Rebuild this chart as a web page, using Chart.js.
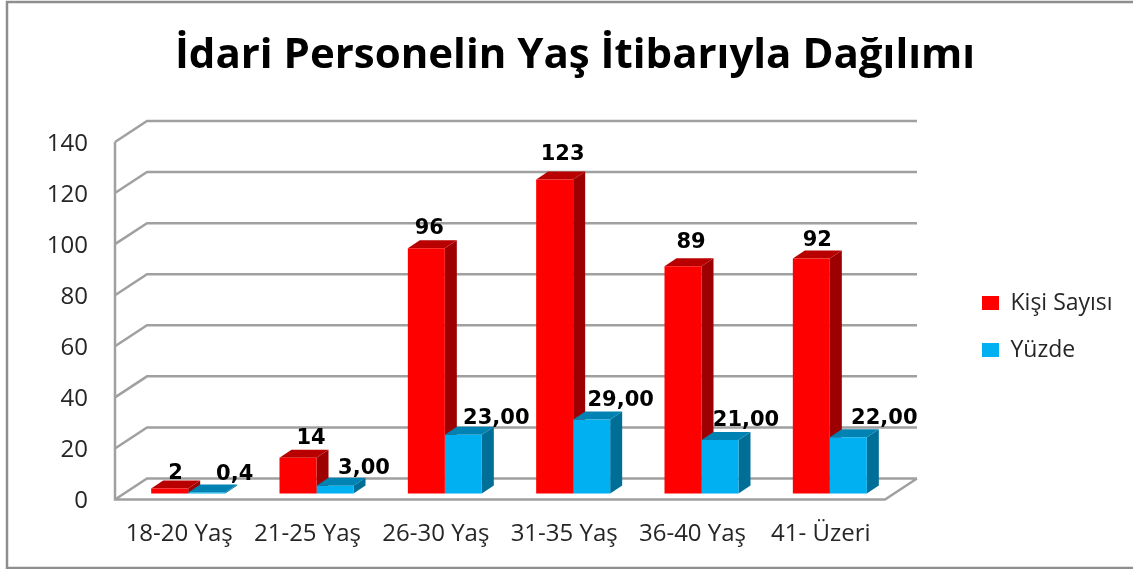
<!DOCTYPE html>
<html lang="tr">
<head>
<meta charset="utf-8">
<title>İdari Personelin Yaş İtibarıyla Dağılımı</title>
<script src="https://cdn.jsdelivr.net/npm/chart.js@4"></script>
<style>
    html, body { margin: 0; padding: 0; background: #fff; }
    #kutu { position: relative; width: 1133px; height: 569px; }
</style>
</head>
<body>
<div id="kutu"><canvas id="grafik"></canvas></div>
<script>
/* datos */
var kategoriler = ["18-20 Yaş", "21-25 Yaş", "26-30 Yaş", "31-35 Yaş", "36-40 Yaş", "41- Üzeri"];
var kisiSayisi = [2, 14, 96, 123, 89, 92];
var yuzde = [0.4, 3, 23, 29, 21, 22];
var kisiEtiket = ["2", "14", "96", "123", "89", "92"];
var yuzdeEtiket = ["0,4", "3,00", "23,00", "29,00", "21,00", "22,00"];
var baslik = "İdari Personelin Yaş İtibarıyla Dağılımı";

/* desplazamiento de cada etiqueta respecto a la cara frontal de su barra */
var kisiKayma = [[6, -15], [13, -19], [3, -20], [8, -25], [8, -24], [6, -18]];
var yuzdeKayma = [[28, -18], [29, -17], [33, -16], [29, -19], [26, -19], [36, -19]];

var fondoX = 32, fondoY = -21;   // profundidad del suelo
var barraX = 9, barraY = -6;     // barra dentro del suelo
var ladoX = 12, ladoY = -8;      // profundidad de la barra

var colores = [
    { frente: "#ff0000", arriba: "#b90000", lado: "#9c0000" },
    { frente: "#00b0f0", arriba: "#0082b2", lado: "#006f98" }
];

function poligono(ctx, puntos, color) {
    ctx.fillStyle = color;
    ctx.beginPath();
    ctx.moveTo(puntos[0][0], puntos[0][1]);
    for (var i = 1; i < puntos.length; i++) {
        ctx.lineTo(puntos[i][0], puntos[i][1]);
    }
    ctx.closePath();
    ctx.fill();
}

var grafico3d = {
    id: "grafico3d",
    // la leyenda y el título se colocan a mano
    afterLayout: function (chart) {
        chart.legend.left = 982 - chart.legend.options.labels.padding;
        chart.legend.right = 1133;
        chart.legend.top = 291.5 - chart.legend.options.labels.padding;
        chart.legend.bottom = chart.legend.top + 200;
        chart.titleBlock.left = 17;
        chart.titleBlock.right = 1133;
    },
    // marco exterior
    beforeDraw: function (chart) {
        var ctx = chart.ctx;
        ctx.save();
        ctx.strokeStyle = "#8e8e8e";
        ctx.lineWidth = 2.5;
        ctx.beginPath();
        ctx.moveTo(1133, 2);
        ctx.lineTo(7, 2);
        ctx.lineTo(7, 568);
        ctx.lineTo(1133, 568);
        ctx.stroke();
        ctx.restore();
    },
    beforeDatasetsDraw: function (chart) {
        var ctx = chart.ctx;
        var area = chart.chartArea;
        var y = chart.scales.y;
        // paredes y suelo
        ctx.save();
        ctx.strokeStyle = "#a0a0a0";
        ctx.lineWidth = 2.5;
        ctx.beginPath();
        y.ticks.forEach(function (t) {
            var py = y.getPixelForValue(t.value);
            ctx.moveTo(area.left, py);
            ctx.lineTo(area.left + fondoX, py + fondoY);
            ctx.lineTo(area.right + fondoX, py + fondoY);
        });
        ctx.moveTo(area.left, area.top);
        ctx.lineTo(area.left, area.bottom);
        ctx.lineTo(area.right, area.bottom);
        ctx.lineTo(area.right + fondoX, area.bottom + fondoY);
        ctx.stroke();
        ctx.restore();

        // lados y tapas de las barras, el frente lo pinta Chart.js encima
        ctx.save();
        ctx.translate(barraX, barraY);
        chart.data.datasets.forEach(function (ds, i) {
            var c = colores[i];
            chart.getDatasetMeta(i).data.forEach(function (bar) {
                var izq = bar.x - bar.width / 2;
                var der = bar.x + bar.width / 2;
                poligono(ctx, [[der, bar.y], [der + ladoX, bar.y + ladoY], [der + ladoX, bar.base + ladoY], [der, bar.base]], c.lado);
                poligono(ctx, [[izq, bar.y], [izq + ladoX, bar.y + ladoY], [der + ladoX, bar.y + ladoY], [der, bar.y]], c.arriba);
            });
        });
    },
    afterDatasetsDraw: function (chart) {
        var ctx = chart.ctx;
        var textos = [kisiEtiket, yuzdeEtiket];
        var kaymas = [kisiKayma, yuzdeKayma];
        ctx.restore();
        ctx.save();
        ctx.font = "bold 21px 'DejaVu Sans'";
        ctx.fillStyle = "#000";
        ctx.textAlign = "center";
        ctx.textBaseline = "middle";
        chart.data.datasets.forEach(function (ds, i) {
            chart.getDatasetMeta(i).data.forEach(function (bar, j) {
                ctx.fillText(textos[i][j], bar.x + barraX + kaymas[i][j][0], bar.y + barraY + kaymas[i][j][1]);
            });
        });
        ctx.restore();
    }
};

function cargaGrafico() {
    var config = {
        type: "bar",
        data: {
            labels: kategoriler,
            datasets: [
                { label: "Kişi Sayısı", data: kisiSayisi, backgroundColor: colores[0].frente, clip: false },
                { label: "Yüzde", data: yuzde, backgroundColor: colores[1].frente, clip: false }
            ]
        },
        options: {
            responsive: false,
            animation: false,
            layout: { padding: { left: 0, top: 0, bottom: 0, right: 118 } },
            datasets: { bar: { categoryPercentage: 0.5766, barPercentage: 1 } },
            plugins: {
                tooltip: { enabled: false },
                title: {
                    display: true,
                    text: baslik,
                    color: "#000",
                    font: { family: "'Open Sans'", size: 42, weight: "bold", lineHeight: 1.2 },
                    padding: { top: 31, bottom: 60.6 }
                },
                legend: {
                    position: "right",
                    align: "start",
                    maxWidth: 130,
                    labels: {
                        boxWidth: 17,
                        boxHeight: 14,
                        padding: 24,
                        color: "#262626",
                        font: { family: "'Open Sans'", size: 23 }
                    }
                }
            },
            scales: {
                x: {
                    border: { display: false },
                    grid: { display: false, drawTicks: false },
                    ticks: {
                        padding: 20,
                        maxRotation: 0,
                        autoSkip: false,
                        color: "#262626",
                        font: { family: "'Open Sans'", size: 24 }
                    },
                    afterFit: function (s) { s.height = 69.5; }
                },
                y: {
                    min: 0,
                    max: 140,
                    border: { display: false },
                    grid: { display: false, drawTicks: false },
                    ticks: {
                        stepSize: 20,
                        padding: 27,
                        labelOffset: 2,
                        color: "#262626",
                        font: { family: "'Open Sans'", size: 24 }
                    },
                    afterFit: function (s) { s.width = 115; }
                }
            }
        },
        plugins: [grafico3d]
    };
    var canvas = document.getElementById("grafik");
    canvas.width = 1133;
    canvas.height = 569;
    new Chart(canvas.getContext("2d"), config);
}

cargaGrafico();
</script>
</body>
</html>
